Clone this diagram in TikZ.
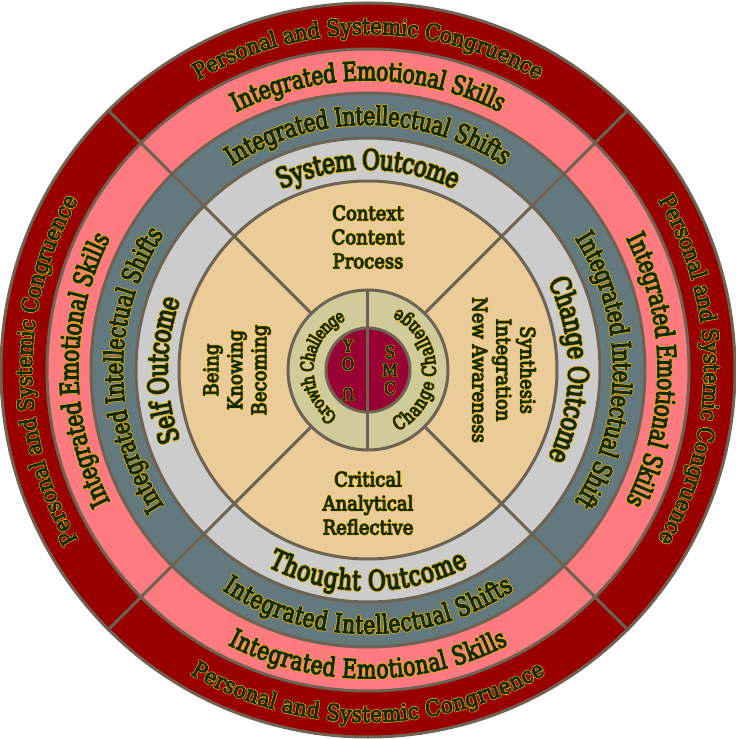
\documentclass[tikz,border=0pt]{standalone}
\usepackage{fontspec}
\setmainfont{DejaVu Serif}
\newfontfamily\inkwfont[FakeStretch=0.9,FakeBold=4]{DejaVu Serif}
\newfontfamily\halowfont[FakeStretch=0.9,FakeBold=10]{DejaVu Serif}
\newfontfamily\inknfont[FakeStretch=0.78,FakeBold=4]{DejaVu Serif}
\newfontfamily\halonfont[FakeStretch=0.78,FakeBold=10]{DejaVu Serif}
\usetikzlibrary{decorations.text}
\definecolor{congred}{HTML}{990000}
\definecolor{emopink}{HTML}{FF7B80}
\definecolor{intslate}{HTML}{64797D}
\definecolor{outgray}{HTML}{CCCCCC}
\definecolor{coretan}{HTML}{EACC98}
\definecolor{chalkhaki}{HTML}{CFCB9B}
\definecolor{youred}{HTML}{990033}
\definecolor{rimline}{HTML}{6E6352}
\definecolor{txtgreen}{HTML}{14280A}
\definecolor{halogold}{HTML}{E0B400}
\begin{document}
\begin{tikzpicture}[x=1pt,y=1pt,line join=round,line cap=round,
  rim/.style={draw=rimline,line width=3pt},
  arctext/.style={decorate,decoration={text along path,text align=center,raise=-0.36em}},
  core/.style={align=center,inner sep=0pt}]
\useasboundingbox (-368,-369) rectangle (368,370);
\draw[rim,fill=congred] (0,0) circle[radius=367];
\draw[rim,fill=emopink] (0,0) circle[radius=321];
\draw[rim,fill=intslate] (0,0) circle[radius=277];
\draw[rim,fill=outgray] (0,0) circle[radius=232];
\draw[rim,fill=coretan] (0,0) circle[radius=189];
\foreach \a in {45,135,225,315} \draw[rim] (\a:80)--(\a:367);
\draw[rim,fill=chalkhaki] (0,0) circle[radius=80];
\draw[rim,fill=youred] (0,0) circle[radius=42];
\draw[rim] (0,80)--(0,-80);
\foreach \fam/\col in {halo/halogold,ink/txtgreen}{
  \foreach \a/\rad/\fs/\w/\txt in {90/344/22.5/w/Personal and Systemic Congruence,180/344/22.5/w/Personal and Systemic Congruence,0/344/22.5/w/Personal and Systemic Congruence,
    90/299/26/n/Integrated Emotional Skills,180/299/26/n/Integrated Emotional Skills,0/299/26/n/Integrated Emotional Skills,
    90/254.5/26/n/Integrated Intellectual Shifts,180/254.5/26/n/Integrated Intellectual Shifts,0/254.5/26/n/Integrated Intellectual Shift,
    90/210.5/28/n/System Outcome,180/210.5/28/n/Self Outcome,0/210.5/28/n/Change Outcome,175/61/18/n/Growth Challenge}{
    \fontsize{\fs}{\fs}\csname\fam\w font\endcsname
    \path[arctext,decoration={text color=\col,text/.expanded=\txt}] (\a+85:\rad) arc[start angle=\a+85,end angle=\a-85,radius=\rad];
  }
  \foreach \a/\rad/\fs/\w/\txt in {270/344/22.5/w/Personal and Systemic Congruence,270/299/26/n/Integrated Emotional Skills,
    270/254.5/26/n/Integrated Intellectual Shifts,270/210.5/28/n/Thought Outcome,0/61/19/n/Change Challenge}{
    \fontsize{\fs}{\fs}\csname\fam\w font\endcsname
    \path[arctext,decoration={text color=\col,text/.expanded=\txt}] (\a-85:\rad) arc[start angle=\a-85,end angle=\a+85,radius=\rad];
  }
  \begin{scope}[every node/.append style={core,text=\col,font=\fontsize{20}{24}\csname\fam wfont\endcsname}]
  \node (context) at (0,133) {Context\\Content\\Process};
  \node (critical) at (0,-133) {Critical\\Analytical\\Reflective};
  \node[rotate=90] (being) at (-131,0) {Being\\Knowing\\Becoming};
  \node[rotate=-90] (synthesis) at (136,0) {Synthesis\\Integration\\New Awareness};
  \node[font=\fontsize{17}{18}\csname\fam wfont\endcsname] (you) at (-20,0) {Y\\O\\\rotatebox{180}{U}};
  \node[font=\fontsize{17}{18}\csname\fam wfont\endcsname] (smc) at (22,0) {S\\M\\C};
  \end{scope}
}
\end{tikzpicture}
\end{document}
